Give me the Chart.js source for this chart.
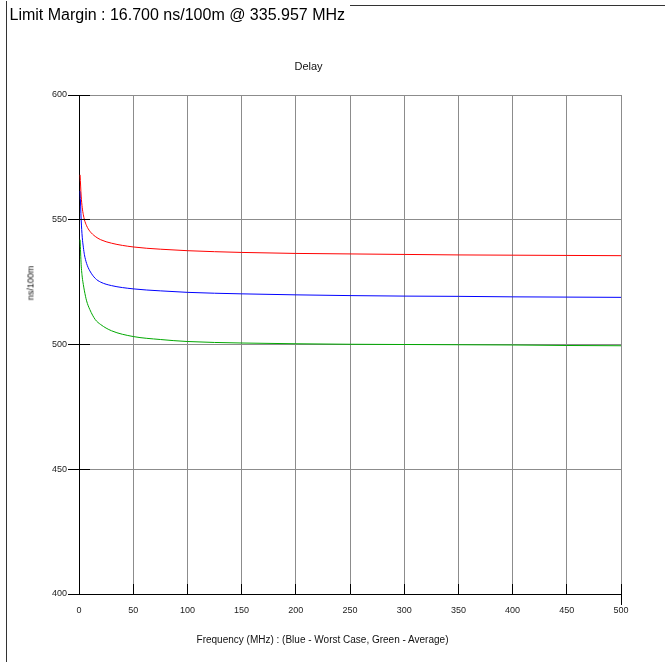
<!DOCTYPE html>
<html>
<head>
<meta charset="utf-8">
<title>Delay</title>
<script src="https://cdn.jsdelivr.net/npm/chart.js@4.4.1/dist/chart.umd.min.js"></script>
<style>
    html, body { margin: 0; padding: 0; background: #fff; }
    #wrap { position: relative; width: 665px; height: 662px; overflow: hidden; font-family: "Liberation Sans", Arial, sans-serif; }
    #chart { position: absolute; left: 0; top: 0; }
    .frame-left { position: absolute; left: 6px; top: 1px; width: 1px; height: 661px; background: #333; }
    .frame-top { position: absolute; left: 350px; top: 5px; width: 315px; height: 1px; background: #333; }
    .txt { position: absolute; white-space: nowrap; line-height: 1; color: #000; }
    #heading { left: 9.5px; top: 6.5px; font-size: 16px; }
    #plotTitle { left: 308.5px; top: 61px; font-size: 11px; transform: translateX(-50%); color: #111; }
    #xTitle { left: 322.5px; top: 634.5px; font-size: 10px; transform: translateX(-50%); color: #111; }
    #yTitle { left: 31px; top: 283px; font-size: 9px; transform: translate(-50%, -50%) rotate(-90deg); color: #111; }
</style>
</head>
<body>
<div id="wrap">
    <canvas id="chart" width="665" height="662"></canvas>
    <div class="frame-left"></div>
    <div class="frame-top"></div>
    <div class="txt" id="heading">Limit Margin : 16.700 ns/100m @ 335.957 MHz</div>
    <div class="txt" id="plotTitle">Delay</div>
    <div class="txt" id="xTitle">Frequency (MHz) : (Blue - Worst Case, Green - Average)</div>
    <div class="txt" id="yTitle">ns/100m</div>
</div>
<script>
// Frequency points (MHz) and delay values (ns/100m)
const freqMHz        = [1, 2, 3, 4, 5, 7, 10, 15, 20, 30, 50, 75, 100, 150, 200, 250, 300, 350, 400, 450, 500];
const limitDelay     = [568, 559.5, 554.8, 552, 550, 547.6, 545.4, 543.3, 542, 540.6, 539.1, 538.2, 537.6, 536.9, 536.5, 536.3, 536.1, 535.9, 535.8, 535.7, 535.6];
const worstCaseDelay = [561.5, 550, 543, 539, 536, 532.5, 529.5, 526.5, 525, 523.6, 522.3, 521.5, 520.9, 520.3, 519.9, 519.6, 519.4, 519.3, 519.1, 519, 518.9];
const averageDelay   = [542, 532, 527, 524, 521.5, 517.5, 514, 510, 508, 505.5, 503.2, 502, 501.2, 500.6, 500.3, 500.1, 500, 499.9, 499.8, 499.6, 499.5];

// Axis ticks
const xTickValues = [0, 50, 100, 150, 200, 250, 300, 350, 400, 450, 500];
const yTickValues = [400, 450, 500, 550, 600];

const toPoints = values => freqMHz.map((f, i) => ({ x: f, y: values[i] }));

// Short black tick marks on the inner side of both axes
const innerTicks = {
    id: 'innerTicks',
    afterDatasetsDraw(chart) {
        const { ctx, chartArea, scales: { x, y } } = chart;
        const align = p => Math.round(p - 0.5) + 0.5;
        ctx.save();
        ctx.strokeStyle = '#000';
        ctx.lineWidth = 1;
        ctx.beginPath();
        y.ticks.forEach(t => {
            const py = align(y.getPixelForValue(t.value));
            ctx.moveTo(chartArea.left, py);
            ctx.lineTo(chartArea.left + 11, py);
        });
        x.ticks.forEach(t => {
            const px = align(x.getPixelForValue(t.value));
            ctx.moveTo(px, chartArea.bottom);
            ctx.lineTo(px, chartArea.bottom - 10);
        });
        // the end of the x axis carries a longer mark
        const pEnd = align(x.getPixelForValue(x.max));
        ctx.moveTo(pEnd, chartArea.bottom);
        ctx.lineTo(pEnd, chartArea.bottom + 11);
        ctx.stroke();
        ctx.restore();
    }
};

const tickFont = { family: '"Liberation Sans", Arial, sans-serif', size: 9 };

new Chart(document.getElementById('chart'), {
    type: 'line',
    data: {
        datasets: [
            { label: 'Limit', data: toPoints(limitDelay), borderColor: '#ff0000' },
            { label: 'Worst Case', data: toPoints(worstCaseDelay), borderColor: '#0000ff' },
            { label: 'Average', data: toPoints(averageDelay), borderColor: '#00a800' }
        ]
    },
    options: {
        responsive: false,
        animation: false,
        devicePixelRatio: 1,
        layout: { padding: { left: 0, right: 44, top: 95, bottom: 0 } },
        elements: {
            point: { radius: 0 },
            line: { borderWidth: 1, fill: false, cubicInterpolationMode: 'monotone' }
        },
        plugins: {
            legend: { display: false },
            tooltip: { enabled: false }
        },
        scales: {
            x: {
                type: 'linear',
                min: 0,
                max: 500,
                afterBuildTicks: s => { s.ticks = xTickValues.map(v => ({ value: v })); },
                afterFit: s => { s.height = 68; },
                grid: { color: '#8c8c8c', lineWidth: 1, drawTicks: false },
                border: { color: '#000', width: 1 },
                ticks: { font: tickFont, color: '#222', padding: 11, maxRotation: 0 }
            },
            y: {
                type: 'linear',
                min: 400,
                max: 600,
                afterBuildTicks: s => { s.ticks = yTickValues.map(v => ({ value: v })); },
                afterFit: s => { s.width = 79; },
                grid: { color: '#8c8c8c', lineWidth: 1, tickLength: 11, tickColor: '#000' },
                border: { color: '#000', width: 1 },
                ticks: { font: tickFont, color: '#222', padding: 1 }
            }
        }
    },
    plugins: [innerTicks]
});
</script>
</body>
</html>
